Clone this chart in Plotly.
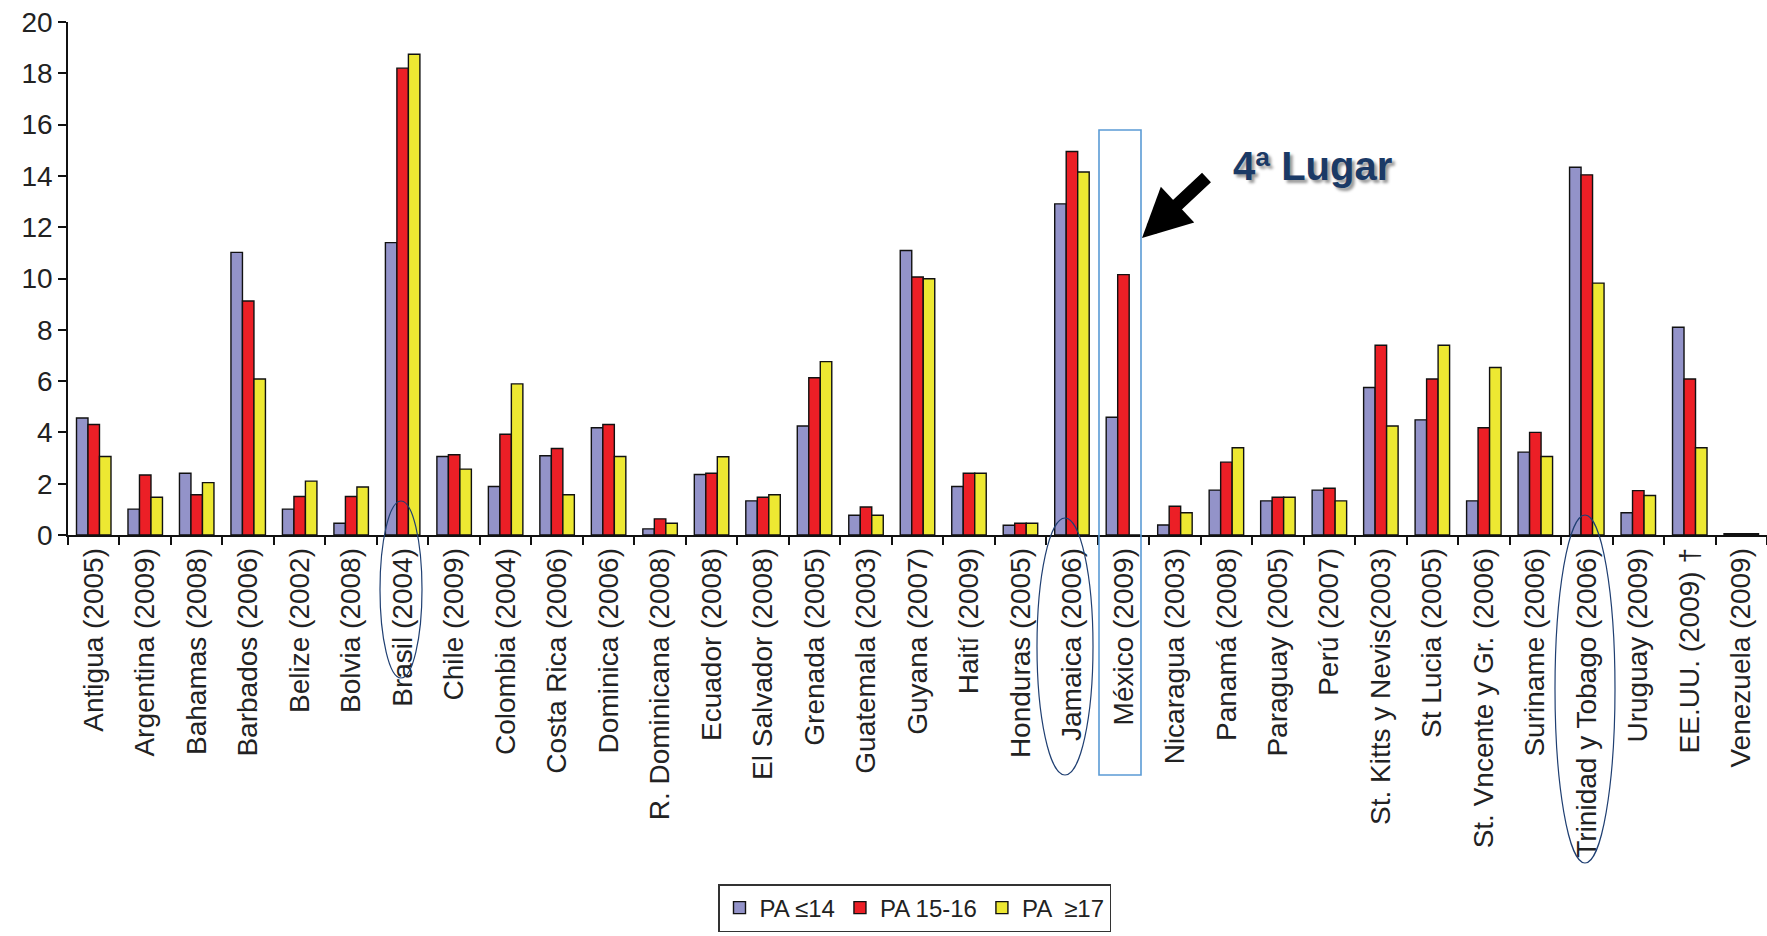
import plotly.graph_objects as go

categories = [
    "Antigua (2005)", "Argentina (2009)", "Bahamas (2008)", "Barbados (2006)", "Belize (2002)",
    "Bolvia (2008)", "Brasil (2004)", "Chile (2009)", "Colombia (2004)", "Costa Rica (2006)",
    "Dominica (2006)", "R. Dominicana (2008)", "Ecuador (2008)", "El Salvador (2008)", "Grenada (2005)",
    "Guatemala (2003)", "Guyana (2007)", "Haití (2009)", "Honduras (2005)", "Jamaica (2006)",
    "México (2009)", "Nicaragua (2003)", "Panamá (2008)", "Paraguay (2005)", "Perú (2007)",
    "St. Kitts y Nevis(2003)", "St Lucia (2005)", "St. Vncente y Gr. (2006)", "Suriname (2006)",
    "Trinidad y Tobago (2006)", "Uruguay (2009)", "EE.UU. (2009) †", "Venezuela (2009)",
]

pa_le14 = [4.56, 1.01, 2.41, 11.02, 1.01, 0.46, 11.4, 3.06, 1.89, 3.09, 4.18, 0.24, 2.36, 1.33, 4.25,
           0.77, 11.09, 1.89, 0.38, 12.91, 4.59, 0.39, 1.75, 1.33, 1.75, 5.75, 4.49, 1.33, 3.23,
           14.34, 0.87, 8.1, 0.05]
pa_15_16 = [4.31, 2.34, 1.57, 9.12, 1.5, 1.5, 18.2, 3.13, 3.93, 3.37, 4.31, 0.63, 2.41, 1.47, 6.13,
            1.09, 10.06, 2.41, 0.46, 14.95, 10.15, 1.12, 2.84, 1.47, 1.82, 7.4, 6.08, 4.18, 4.0,
            14.04, 1.73, 6.08, 0.05]
pa_ge17 = [3.06, 1.47, 2.04, 6.08, 2.1, 1.87, 18.74, 2.57, 5.89, 1.57, 3.06, 0.46, 3.05, 1.57, 6.76,
           0.77, 9.99, 2.41, 0.46, 14.15, 0.0, 0.87, 3.4, 1.47, 1.33, 4.25, 7.4, 6.53, 3.06,
           9.82, 1.54, 3.4, 0.05]

series_names = ["PA ≤14", "PA 15-16", "PA  ≥17"]
series_values = [pa_le14, pa_15_16, pa_ge17]
series_colors = ["#9393C9", "#EC1F26", "#EDE832"]

fig = go.Figure()
for name, vals, col in zip(series_names, series_values, series_colors):
    fig.add_trace(go.Bar(
        x=categories, y=vals, name=name,
        marker=dict(color=col, line=dict(color="#111111", width=1.4)),
    ))

W, H = 1767, 936
ml, mr, mt, mb = 68, 0, 22, 401
n = len(categories)


def py(px_y):
    # convert a pixel row to paper y
    return (H - mb - px_y) / (H - mt - mb)


def pxx(px_x):
    return (px_x - ml) / (W - ml - mr)


ellipse_color = "#1F3F72"
shapes = []
for (x0, x1, y0, y1) in [(380, 422, 501, 678), (1037, 1093, 518, 775), (1555, 1615, 515, 863)]:
    shapes.append(dict(type="circle", xref="paper", yref="paper",
                       x0=pxx(x0), x1=pxx(x1), y0=py(y1), y1=py(y0),
                       line=dict(color=ellipse_color, width=1.2)))
shapes.append(dict(type="rect", xref="paper", yref="paper",
                   x0=pxx(1099), x1=pxx(1141), y0=py(775), y1=py(130),
                   line=dict(color="#5B9BD5", width=1.6)))

annotations = [
    dict(xref="paper", yref="paper", x=pxx(1142), y=py(238), ax=66, ay=-62,
         text="", showarrow=True, arrowhead=2, arrowsize=0.75, arrowwidth=13,
         arrowcolor="#000000"),
    dict(xref="paper", yref="paper", x=pxx(1312), y=py(166), text="<b>4ª Lugar</b>",
         showarrow=False, xanchor="center", yanchor="middle",
         font=dict(family="Arial, Liberation Sans", size=40, color="#1B3A66",
                   shadow="3px 3px 3px #9a9a9a")),
]

fig.update_layout(
    width=W, height=H,
    margin=dict(l=ml, r=mr, t=mt, b=mb),
    paper_bgcolor="white", plot_bgcolor="white",
    barmode="group", bargap=0.33, bargroupgap=0.0,
    font=dict(family="Arial, Liberation Sans, sans-serif", color="#222222"),
    showlegend=True,
    legend=dict(orientation="h", x=pxx(718), y=py(884), xanchor="left", yanchor="top",
                bordercolor="#333333", borderwidth=1.5, bgcolor="white",
                font=dict(size=24, color="#222222"), itemwidth=30,
                traceorder="normal"),
    shapes=shapes,
    annotations=annotations,
)

fig.update_xaxes(
    type="category", showline=True, linecolor="#111111", linewidth=1.6,
    ticks="outside", ticklen=8, tickwidth=1.6, tickcolor="#111111",
    tickson="boundaries", tickangle=-90,
    tickfont=dict(size=28, family="Arial, Liberation Sans", color="#222222"),
    showgrid=False, zeroline=False,
)
fig.update_yaxes(
    range=[0, 20], dtick=2, showline=True, linecolor="#111111", linewidth=1.6,
    ticks="outside", ticklen=8, tickwidth=1.6, tickcolor="#111111",
    tickfont=dict(size=28, family="Arial, Liberation Sans", color="#222222"),
    showgrid=False, zeroline=False,
)

fig.write_html("out.html")
